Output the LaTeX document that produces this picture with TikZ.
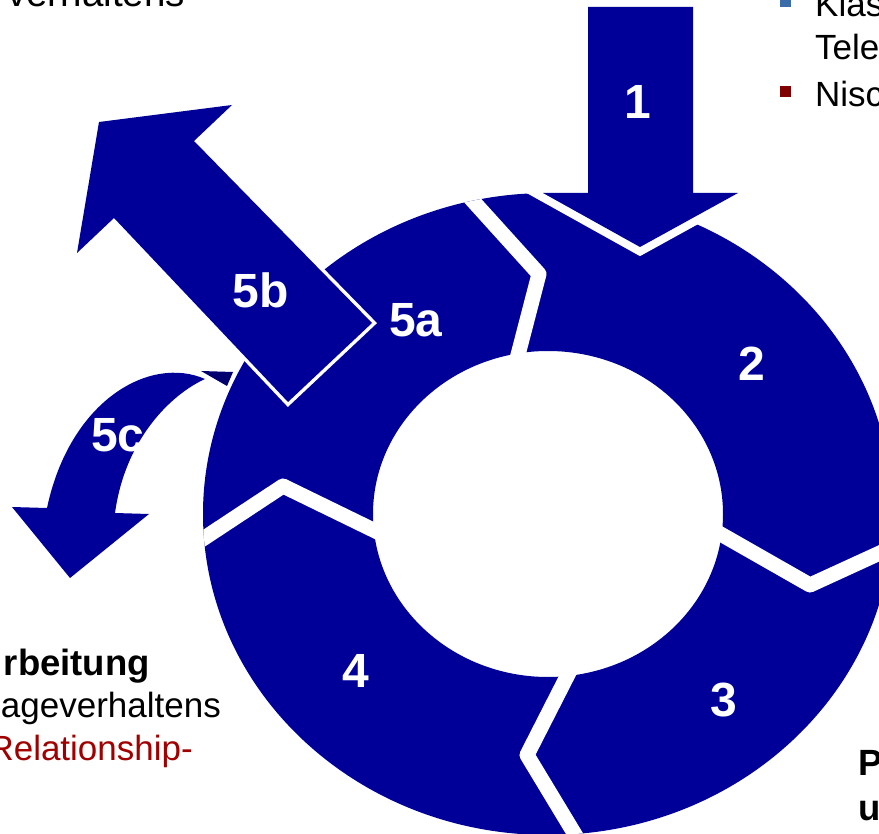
\documentclass[tikz,border=0pt]{standalone}
\usepackage{fontspec}
\setmainfont{Liberation Sans}
\definecolor{navy}{RGB}{0,0,153}
\definecolor{navydark}{RGB}{0,0,110}
\definecolor{bulletblue}{RGB}{58,108,170}
\definecolor{bulletred}{RGB}{128,0,0}
\definecolor{textred}{RGB}{160,0,0}
\tikzset{
  gapline/.style={draw=white, line width=15pt, line join=round},
  bigarrow/.style={fill=navy, preaction={draw=white, line width=#1, line join=miter}},
  numlabel/.style={text=white, font=\fontsize{48}{48}\selectfont\bfseries, inner sep=0pt},
  bodytext/.style={font=\fontsize{35}{42}\selectfont, inner sep=0pt},
  boldtext/.style={font=\fontsize{36.5}{42}\selectfont\bfseries, inner sep=0pt},
}
\begin{document}
\begin{tikzpicture}[x=1pt,y=-1pt]
\useasboundingbox (0,0) rectangle (879,834);
\clip (0,0) rectangle (879,834);

% ring of four segments
\coordinate (ctr) at (548,514);
\fill[navy, even odd rule] (ctr) ellipse [x radius=345, y radius=321]
                           (ctr) ellipse [x radius=175, y radius=163];

% chevron-shaped gaps between the segments
\begin{scope}
  \clip (ctr) ellipse [x radius=345, y radius=321];
  \draw[gapline] (454,180) -- (539,274) -- (512,378);
  \draw[gapline] (696,520) -- (810,585) -- (930,530);
  \draw[gapline] (580,651) -- (527,755) -- (588,856);
  \draw[gapline] (180,554) -- (283,486) -- (400,543);
\end{scope}

% arrow 1 entering from the top
\path[bigarrow=16pt] (588,7) -- (693,7) -- (693,193) -- (738,193) -- (640,247)
  -- (543,193) -- (588,193) -- cycle;

% arrow 5b leaving to the upper left
\path[bigarrow=7pt] (372,323) -- (194,141) -- (232,105) -- (99,122) -- (77,253)
  -- (114,218) -- (288,402) -- cycle;

% curved arrow 5c
\fill[navydark] (201,371) -- (233,372) -- (227,386) -- cycle;
\fill[navy] (205,379) .. controls (150,355) and (70,400) .. (47,508)
  -- (12,507) -- (70,578) -- (149,514) -- (115,513)
  .. controls (125,440) and (170,395) .. (205,379) -- cycle;

% step numbers
\node[numlabel] (l1)  at (638,102) {1};
\node[numlabel] (l2)  at (752,364) {2};
\node[numlabel] (l3)  at (724,700) {3};
\node[numlabel] (l4)  at (356,671) {4};
\node[numlabel] (l5a) at (416,320) {5a};
\node[numlabel] (l5b) at (261,290) {5b};
\node[numlabel] (l5c) at (118,435) {5c};

% surrounding text
\node[font=\fontsize{38.5}{42}\selectfont, inner sep=0pt, anchor=base east] (tl) at (185,7) {verhaltens};

\fill[bulletblue] (780,-4) rectangle (791,7);
\fill[bulletred] (780,86) rectangle (791,97);
\node[bodytext, anchor=base west] (tr1) at (815,17) {Klas};
\node[bodytext, anchor=base west] (tr2) at (815,60) {Tele};
\node[bodytext, anchor=base west] (tr3) at (815,107) {Nisc};

\node[boldtext, anchor=base east] (bl1) at (150,675) {rbeitung};
\node[bodytext, anchor=base east] (bl2) at (221,717) {ageverhaltens};
\node[bodytext, anchor=base east, text=textred] (bl3) at (193,760) {Relationship-};

\node[boldtext, anchor=base west] (br1) at (858,775) {P};
\node[boldtext, anchor=base west] (br2) at (858,820) {u};
\end{tikzpicture}
\end{document}
